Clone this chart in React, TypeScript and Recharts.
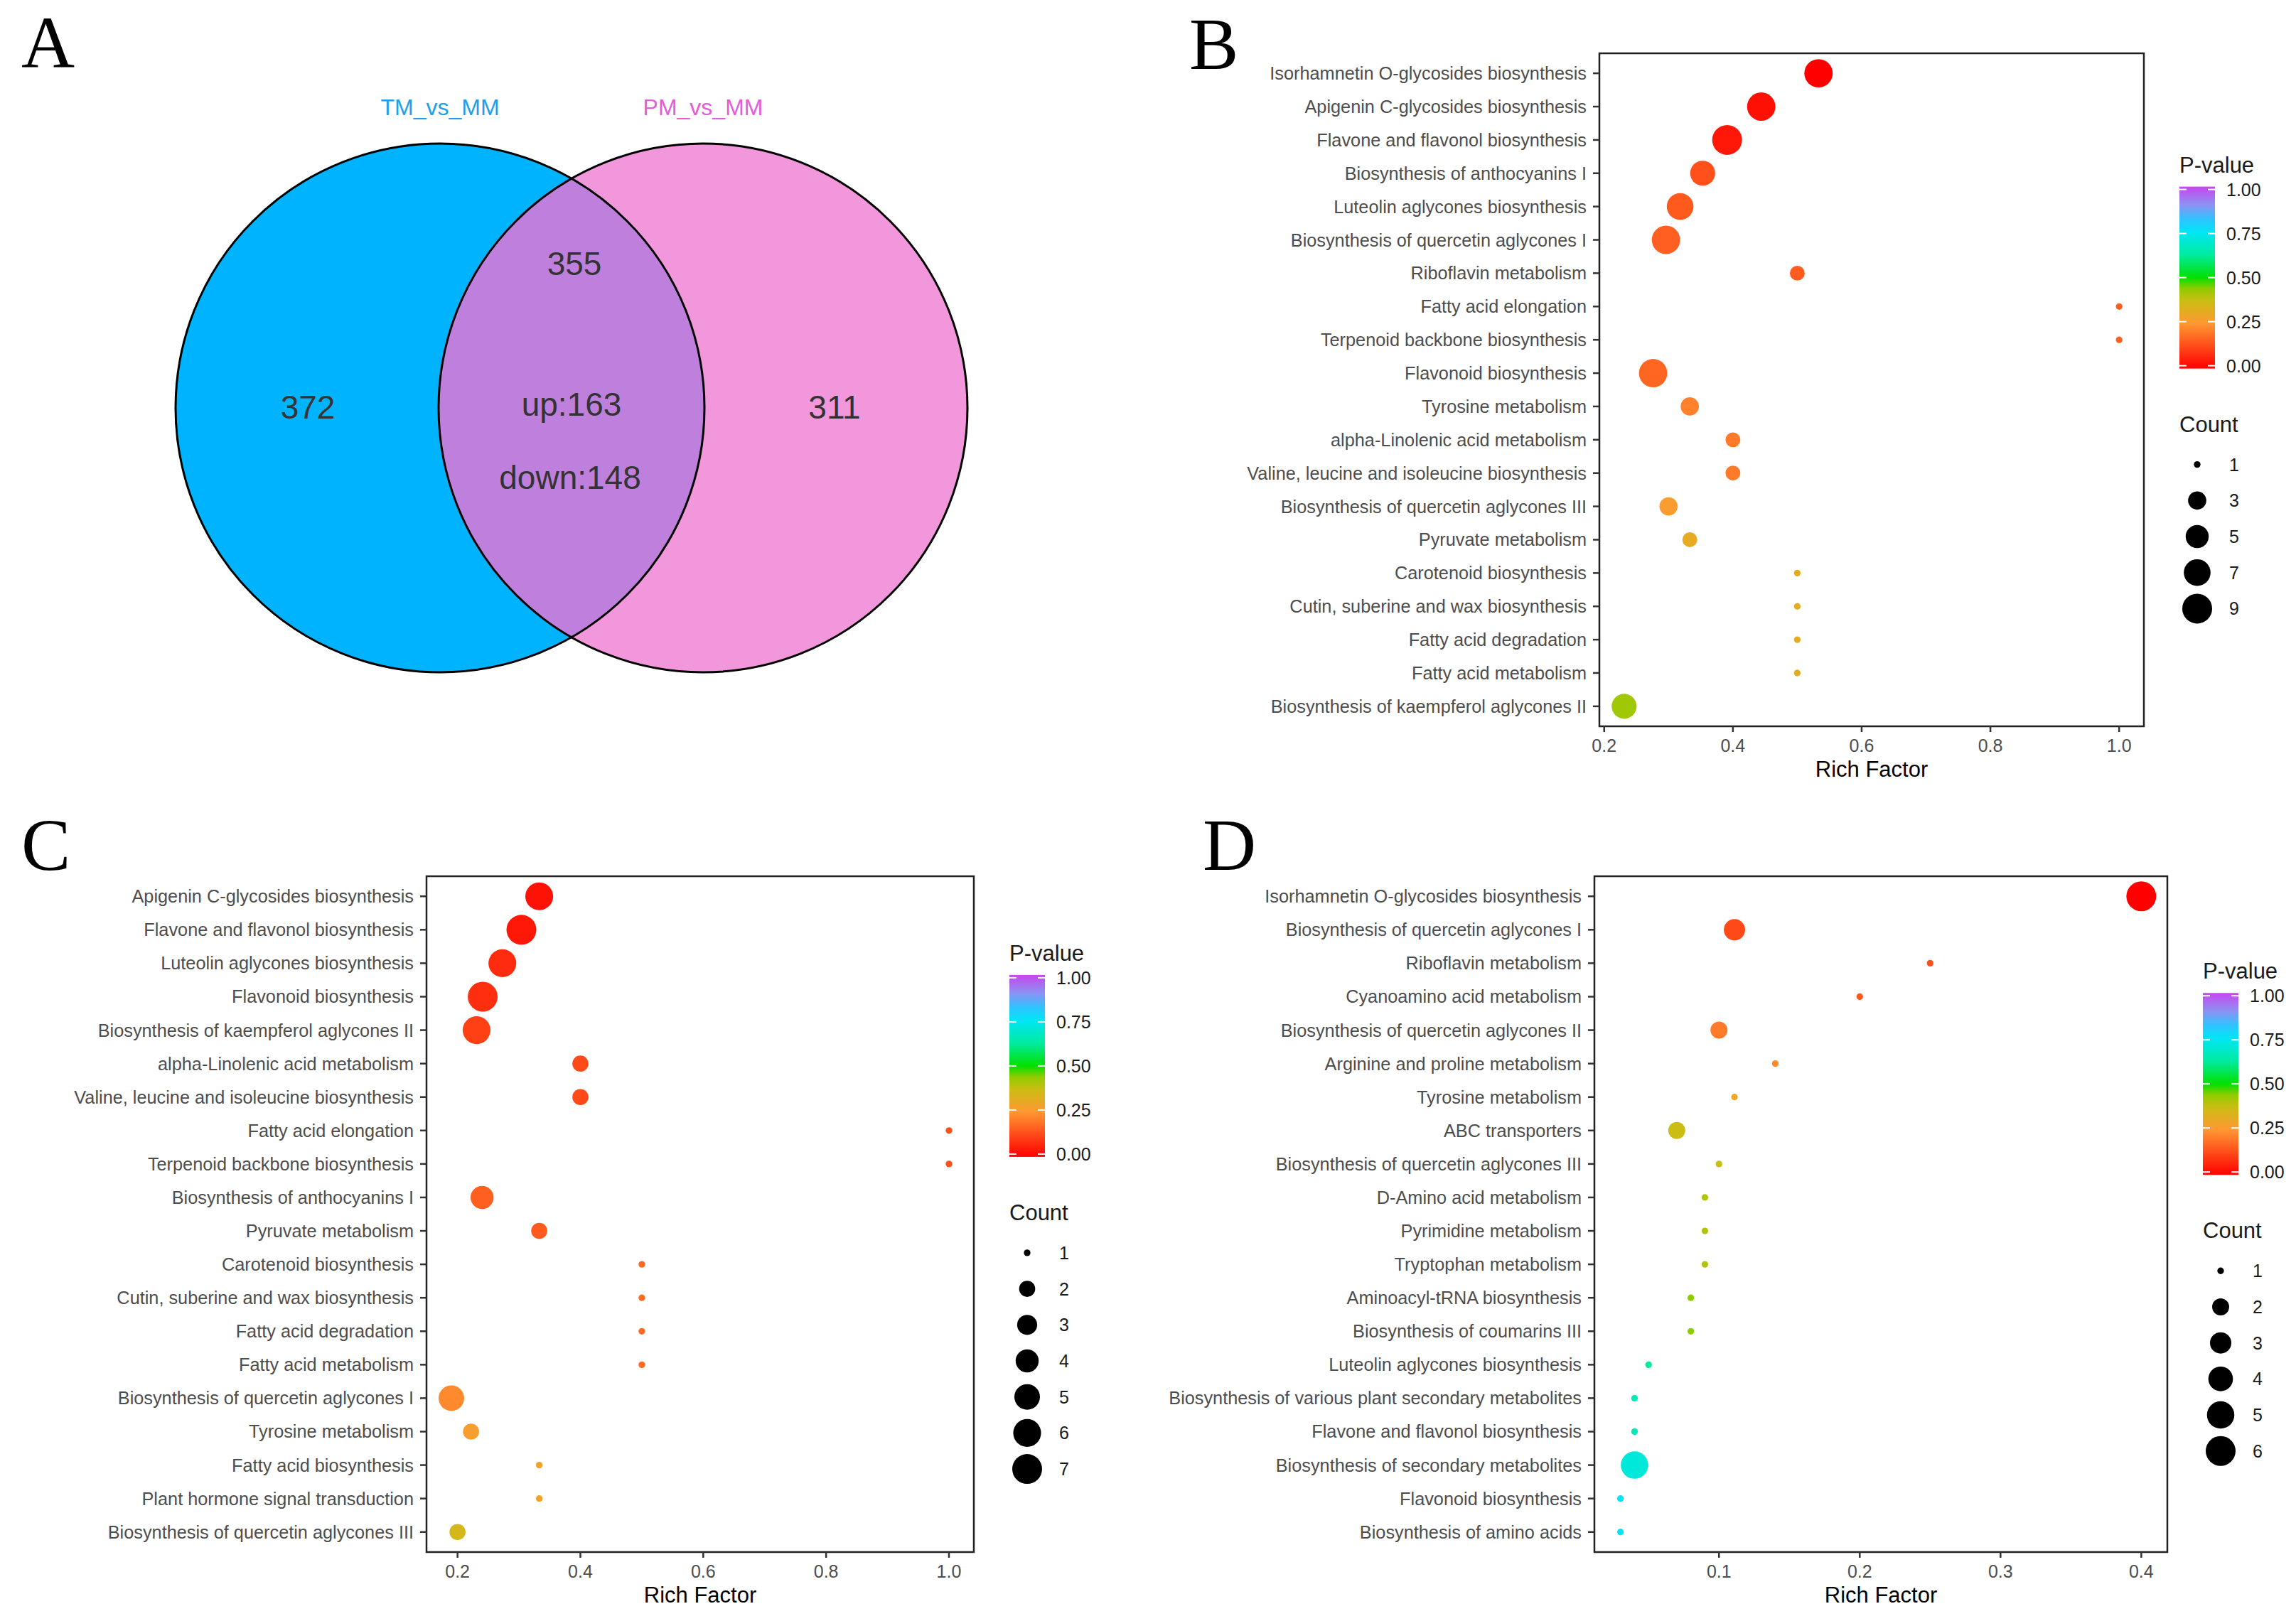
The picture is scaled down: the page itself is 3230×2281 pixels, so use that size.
import React from "react";
import { ScatterChart, Scatter, XAxis, YAxis, ReferenceArea, Label } from "recharts";

const FONT = '"Liberation Sans", Arial, Helvetica, sans-serif';

// ---------- A: Venn ----------
const vennSets = ["TM_vs_MM", "PM_vs_MM"];
const vennOnly = [372, 311];
const vennShared = 355;
const vennUp = 163;
const vennDown = 148;

// ---------- B: TM_vs_MM KEGG enrichment ----------
const bPathways = [
  "Isorhamnetin O-glycosides biosynthesis",
  "Apigenin C-glycosides biosynthesis",
  "Flavone and flavonol biosynthesis",
  "Biosynthesis of anthocyanins I",
  "Luteolin aglycones biosynthesis",
  "Biosynthesis of quercetin aglycones I",
  "Riboflavin metabolism",
  "Fatty acid elongation",
  "Terpenoid backbone biosynthesis",
  "Flavonoid biosynthesis",
  "Tyrosine metabolism",
  "alpha-Linolenic acid metabolism",
  "Valine, leucine and isoleucine biosynthesis",
  "Biosynthesis of quercetin aglycones III",
  "Pyruvate metabolism",
  "Carotenoid biosynthesis",
  "Cutin, suberine and wax biosynthesis",
  "Fatty acid degradation",
  "Fatty acid metabolism",
  "Biosynthesis of kaempferol aglycones II",
];
const bRich = [0.533, 0.444, 0.391, 0.353, 0.318, 0.296, 0.5, 1.0, 1.0, 0.276, 0.333, 0.4, 0.4, 0.3, 0.333, 0.5, 0.5, 0.5, 0.5, 0.231];
const bCount = [8, 8, 9, 6, 7, 8, 2, 1, 1, 8, 3, 2, 2, 3, 2, 1, 1, 1, 1, 6];
const bPvalue = [0.0, 0.026, 0.04, 0.13, 0.147, 0.155, 0.15, 0.157, 0.157, 0.167, 0.21, 0.2, 0.2, 0.26, 0.303, 0.32, 0.32, 0.32, 0.32, 0.42];
const bCountBreaks = [1, 3, 5, 7, 9];
const bRichTicks = [0.2, 0.4, 0.6, 0.8, 1.0];

// ---------- C: PM_vs_MM KEGG enrichment ----------
const cPathways = [
  "Apigenin C-glycosides biosynthesis",
  "Flavone and flavonol biosynthesis",
  "Luteolin aglycones biosynthesis",
  "Flavonoid biosynthesis",
  "Biosynthesis of kaempferol aglycones II",
  "alpha-Linolenic acid metabolism",
  "Valine, leucine and isoleucine biosynthesis",
  "Fatty acid elongation",
  "Terpenoid backbone biosynthesis",
  "Biosynthesis of anthocyanins I",
  "Pyruvate metabolism",
  "Carotenoid biosynthesis",
  "Cutin, suberine and wax biosynthesis",
  "Fatty acid degradation",
  "Fatty acid metabolism",
  "Biosynthesis of quercetin aglycones I",
  "Tyrosine metabolism",
  "Fatty acid biosynthesis",
  "Plant hormone signal transduction",
  "Biosynthesis of quercetin aglycones III",
];
const cRich = [0.333, 0.304, 0.273, 0.241, 0.231, 0.4, 0.4, 1.0, 1.0, 0.24, 0.333, 0.5, 0.5, 0.5, 0.5, 0.19, 0.222, 0.333, 0.333, 0.2];
const cCount = [6, 7, 6, 7, 6, 2, 2, 1, 1, 4, 2, 1, 1, 1, 1, 5, 2, 1, 1, 2];
const cPvalue = [0.03, 0.04, 0.07, 0.075, 0.105, 0.12, 0.12, 0.13, 0.13, 0.157, 0.147, 0.173, 0.173, 0.173, 0.173, 0.225, 0.27, 0.28, 0.28, 0.35];
const cCountBreaks = [1, 2, 3, 4, 5, 6, 7];
const cRichTicks = [0.2, 0.4, 0.6, 0.8, 1.0];

// ---------- D: TM_vs_PM KEGG enrichment ----------
const dPathways = [
  "Isorhamnetin O-glycosides biosynthesis",
  "Biosynthesis of quercetin aglycones I",
  "Riboflavin metabolism",
  "Cyanoamino acid metabolism",
  "Biosynthesis of quercetin aglycones II",
  "Arginine and proline metabolism",
  "Tyrosine metabolism",
  "ABC transporters",
  "Biosynthesis of quercetin aglycones III",
  "D-Amino acid metabolism",
  "Pyrimidine metabolism",
  "Tryptophan metabolism",
  "Aminoacyl-tRNA biosynthesis",
  "Biosynthesis of coumarins III",
  "Luteolin aglycones biosynthesis",
  "Biosynthesis of various plant secondary metabolites",
  "Flavone and flavonol biosynthesis",
  "Biosynthesis of secondary metabolites",
  "Flavonoid biosynthesis",
  "Biosynthesis of amino acids",
];
const dRich = [0.4, 0.111, 0.25, 0.2, 0.1, 0.14, 0.111, 0.07, 0.1, 0.09, 0.09, 0.09, 0.08, 0.08, 0.05, 0.04, 0.04, 0.04, 0.03, 0.03];
const dCount = [6, 3, 1, 1, 2, 1, 1, 2, 1, 1, 1, 1, 1, 1, 1, 1, 1, 5, 1, 1];
const dPvalue = [0.0, 0.12, 0.13, 0.147, 0.2, 0.225, 0.29, 0.37, 0.375, 0.4, 0.4, 0.4, 0.44, 0.44, 0.62, 0.66, 0.66, 0.71, 0.75, 0.75];
const dCountBreaks = [1, 2, 3, 4, 5, 6];
const dRichTicks = [0.1, 0.2, 0.3, 0.4];

// p-value colour ramp (red -> orange -> green -> cyan -> purple)
const P_STOPS: [number, string][] = [
  [0, "#FF0000"],
  [0.25, "#FF9933"],
  [0.375, "#C9BE12"],
  [0.44, "#8ECC00"],
  [0.5, "#00E000"],
  [0.625, "#00EBA0"],
  [0.75, "#00E6F5"],
  [0.82, "#2EC4FF"],
  [0.9, "#8C92F2"],
  [1, "#C845F0"],
];

function hexRgb(h: string) {
  return [1, 3, 5].map((i) => parseInt(h.slice(i, i + 2), 16));
}

function pColor(p: number) {
  for (let i = 1; i < P_STOPS.length; i++) {
    const [v1, c1] = P_STOPS[i];
    const [v0, c0] = P_STOPS[i - 1];
    if (p <= v1) {
      const t = (p - v0) / (v1 - v0);
      const a = hexRgb(c0), b = hexRgb(c1);
      const m = a.map((x, k) => Math.round(x + (b[k] - x) * t));
      return `rgb(${m[0]},${m[1]},${m[2]})`;
    }
  }
  return P_STOPS[P_STOPS.length - 1][1];
}

// ggplot-like area scale: diameter in px
function makeSize(min: number, max: number) {
  return (c: number) => 9.3 + 32.7 * Math.sqrt((c - min) / (max - min));
}

type Panel = {
  pathways: string[];
  rich: number[];
  count: number[];
  pvalue: number[];
  breaks: number[];
  ticks: number[];
};

const panelB: Panel = { pathways: bPathways, rich: bRich, count: bCount, pvalue: bPvalue, breaks: bCountBreaks, ticks: bRichTicks };
const panelC: Panel = { pathways: cPathways, rich: cRich, count: cCount, pvalue: cPvalue, breaks: cCountBreaks, ticks: cRichTicks };
const panelD: Panel = { pathways: dPathways, rich: dRich, count: dCount, pvalue: dPvalue, breaks: dCountBreaks, ticks: dRichTicks };

type Box = { x: number; y: number; w: number; h: number };
const boxB: Box = { x: 2250, y: 75, w: 766, h: 947 };
const boxC: Box = { x: 600, y: 1233, w: 770, h: 951 };
const boxD: Box = { x: 2243, y: 1233, w: 806, h: 951 };

const PAD = 6;
const XAXIS_H = 90;

function EnrichPlot({ panel, box, labelWidth }: { panel: Panel; box: Box; labelWidth: number }) {
  const { pathways, rich, count, pvalue, ticks } = panel;
  const data = pathways.map((name, i) => ({ name, row: i, rich: rich[i], count: count[i], p: pvalue[i] }));
  const lo = Math.min(...rich);
  const hi = Math.max(...rich);
  const pad = (hi - lo) * 0.05;
  const n = pathways.length;
  const sizeOf = makeSize(Math.min(...count), Math.max(...count));
  const rows = pathways.map((_, i) => i);

  return (
    <div style={{ position: "absolute", left: box.x - labelWidth, top: box.y - PAD }}>
      <ScatterChart
        width={labelWidth + box.w + PAD}
        height={box.h + XAXIS_H + PAD}
        margin={{ top: PAD, right: PAD, bottom: 0, left: 0 }}
      >
        <XAxis
          type="number"
          dataKey="rich"
          domain={[lo - pad, hi + pad]}
          ticks={ticks}
          allowDataOverflow
          axisLine={false}
          tickSize={8}
          tickMargin={10}
          height={XAXIS_H}
          tick={{ fontSize: 25, fill: "#4D4D4D" }}
          tickLine={{ stroke: "#333", strokeWidth: 2.5 }}
          tickFormatter={(v: number) => v.toFixed(1)}
        >
          <Label value="Rich Factor" position="insideBottom" offset={19} style={{ fontSize: 31, fill: "#000" }} />
        </XAxis>
        <YAxis
          type="number"
          dataKey="row"
          domain={[-0.6, n - 0.4]}
          reversed
          ticks={rows}
          interval={0}
          width={labelWidth}
          allowDataOverflow
          axisLine={false}
          tickSize={9}
          tickMargin={9}
          tick={{ fontSize: 25.3, fill: "#4D4D4D" }}
          tickLine={{ stroke: "#333", strokeWidth: 2.5 }}
          tickFormatter={(v: number) => pathways[v]}
        />
        <ReferenceArea
          x1={lo - pad}
          x2={hi + pad}
          y1={-0.6}
          y2={n - 0.4}
          fill="none"
          stroke="#222"
          strokeWidth={2.5}
          ifOverflow="visible"
        />
        <Scatter
          data={data}
          isAnimationActive={false}
          shape={(p: any) => (
            <circle cx={p.cx} cy={p.cy} r={sizeOf(p.payload.count) / 2} fill={pColor(p.payload.p)} />
          )}
        />
      </ScatterChart>
    </div>
  );
}

function PLegend({ box, panel }: { box: Box; panel: Panel }) {
  const x = box.x + box.w + 50;
  const breaks = panel.breaks;
  const n = breaks.length;
  const sizeOf = makeSize(Math.min(...panel.count), Math.max(...panel.count));
  const ltop = box.y + box.h / 2 - (363 + (n - 1) * 50.7) / 2 - 3;
  const barTicks = [1, 0.75, 0.5, 0.25, 0];
  const ty = (v: number) => ltop + 4 + (1 - v) * 248;
  return (
    <g fontFamily={FONT} fill="#1A1A1A">
      <text x={x} y={ltop - 20} fontSize={31}>P-value</text>
      <rect x={x} y={ltop} width={50} height={256} fill="url(#pgrad)" />
      {barTicks.map((v) => (
        <g key={v}>
          <line x1={x} x2={x + 10} y1={ty(v)} y2={ty(v)} stroke="#fff" strokeWidth={2} />
          <line x1={x + 40} x2={x + 50} y1={ty(v)} y2={ty(v)} stroke="#fff" strokeWidth={2} />
          <text x={x + 66} y={ty(v) + 9} fontSize={25}>{v.toFixed(2)}</text>
        </g>
      ))}
      <text x={x} y={ltop + 345} fontSize={31}>Count</text>
      {breaks.map((b, i) => (
        <g key={b}>
          <circle cx={x + 25} cy={ltop + 391 + i * 50.7} r={sizeOf(b) / 2} fill="#000" />
          <text x={x + 70} y={ltop + 391 + i * 50.7 + 9} fontSize={25}>{b}</text>
        </g>
      ))}
    </g>
  );
}

// ---------- Venn ----------
const VENN_R = 372;
const VENN_FILL = ["#00B3FF", "#F297DC"];
const VENN_LABEL = ["#1E9FE8", "#E45CD6"];
const VENN_OVERLAP = "#BF80DD";
const vennData = vennSets.map((set, i) => ({ set, group: "all", only: vennOnly[i] }));
const numStyle = { fontSize: 46, fill: "#333", fontFamily: FONT } as const;

function VennFill(p: any) {
  const { cx, cy, payload } = p;
  const i = vennSets.indexOf(payload.set);
  return (
    <g>
      {i === 0 && (
        <defs>
          <clipPath id="vennLeftClip">
            <circle cx={cx} cy={cy} r={VENN_R} />
          </clipPath>
        </defs>
      )}
      <circle cx={cx} cy={cy} r={VENN_R} fill={VENN_FILL[i]} />
      <text x={cx} y={cy - VENN_R - 40} textAnchor="middle" fontSize={32} fill={VENN_LABEL[i]} fontFamily={FONT}>
        {payload.set}
      </text>
      <text x={cx + (i === 0 ? -186 : 185)} y={cy + 15} textAnchor="middle" {...numStyle}>
        {payload.only}
      </text>
    </g>
  );
}

function VennOverlap(p: any) {
  const { cx, cy } = p;
  const mid = cx - 185;
  return (
    <g>
      <circle cx={cx} cy={cy} r={VENN_R} fill={VENN_OVERLAP} clipPath="url(#vennLeftClip)" />
      <text x={mid + 4} y={cy - 187} textAnchor="middle" {...numStyle}>{vennShared}</text>
      <text x={mid} y={cy + 11} textAnchor="middle" {...numStyle}>{`up:${vennUp}`}</text>
      <text x={mid - 2} y={cy + 114} textAnchor="middle" {...numStyle}>{`down:${vennDown}`}</text>
    </g>
  );
}

function VennOutline(p: any) {
  return <circle cx={p.cx} cy={p.cy} r={VENN_R} fill="none" stroke="#000" strokeWidth={3} />;
}

function VennPanel() {
  return (
    <div style={{ position: "absolute", left: 0, top: 0 }}>
      <ScatterChart width={1600} height={1148} margin={{ top: 0, bottom: 0, left: 434, right: 426 }}>
        <XAxis type="category" dataKey="set" hide allowDuplicatedCategory={false} height={0} />
        <YAxis type="category" dataKey="group" hide allowDuplicatedCategory={false} width={0} />
        <Scatter data={vennData} isAnimationActive={false} shape={VennFill} />
        <Scatter data={vennData.slice(1)} isAnimationActive={false} shape={VennOverlap} />
        <Scatter data={vennData} isAnimationActive={false} shape={VennOutline} />
      </ScatterChart>
    </div>
  );
}

export default function App() {
  return (
    <div
      style={{
        position: "absolute",
        left: 0,
        top: 0,
        width: 3230,
        height: 2281,
        background: "#fff",
        fontFamily: FONT,
        overflow: "hidden",
      }}
    >
      <VennPanel />
      <EnrichPlot panel={panelB} box={boxB} labelWidth={540} />
      <EnrichPlot panel={panelC} box={boxC} labelWidth={580} />
      <EnrichPlot panel={panelD} box={boxD} labelWidth={640} />
      <svg
        width={3230}
        height={2281}
        style={{ position: "absolute", left: 0, top: 0, pointerEvents: "none" }}
      >
        <defs>
          <linearGradient id="pgrad" x1="0" y1="1" x2="0" y2="0">
            {P_STOPS.map(([v, c]) => (
              <stop key={v} offset={`${v * 100}%`} stopColor={c} />
            ))}
          </linearGradient>
        </defs>
        <g fontFamily='"Liberation Serif", "Times New Roman", serif' fontSize={104} fill="#000">
          <text x={30} y={95}>A</text>
          <text x={1673} y={97}>B</text>
          <text x={30} y={1224}>C</text>
          <text x={1692} y={1224}>D</text>
        </g>
        <PLegend box={boxB} panel={panelB} />
        <PLegend box={boxC} panel={panelC} />
        <PLegend box={boxD} panel={panelD} />
      </svg>
    </div>
  );
}
